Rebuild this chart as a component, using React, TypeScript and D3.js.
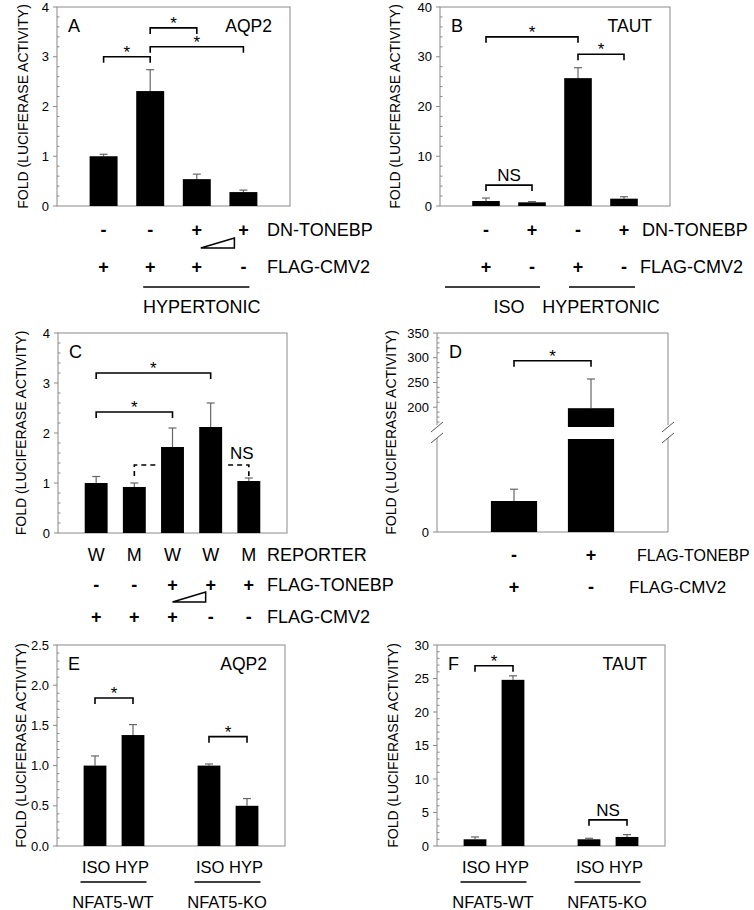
import * as d3 from "d3";

const FONT = "'Liberation Sans', Arial, Helvetica, sans-serif";
const FRAME = "#8a8a8a";
const ERR = "#666";

// A: AQP2 reporter, DN-TONEBP
const aValues = [1.0, 2.31, 0.54, 0.28];
const aErrors = [0.04, 0.43, 0.1, 0.04];
const aDnTonebp = ["-", "-", "+", "+"];
const aFlagCmv2 = ["+", "+", "+", "-"];
const aTicks = [0, 1, 2, 3, 4];

// B: TAUT reporter
const bValues = [1.0, 0.74, 25.7, 1.47];
const bErrors = [0.6, 0.15, 2.1, 0.4];
const bDnTonebp = ["-", "+", "-", "+"];
const bFlagCmv2 = ["+", "-", "+", "-"];
const bTicks = [0, 10, 20, 30, 40];

// C: reporter W / M
const cReporter = ["W", "M", "W", "W", "M"];
const cFlagTonebp = ["-", "-", "+", "+", "+"];
const cFlagCmv2 = ["+", "+", "+", "-", "-"];
const cValues = [1.0, 0.92, 1.72, 2.12, 1.04];
const cErrors = [0.13, 0.08, 0.38, 0.48, 0.06];
const cTicks = [0, 1, 2, 3, 4];

// D: broken axis
const dValues = [1, 198];
const dErrors = [0.38, 59];
const dFlagTonebp = ["-", "+"];
const dFlagCmv2 = ["+", "-"];
const dUpperTicks = [200, 250, 300, 350];

// E / F: NFAT5 WT vs KO
const efConditions = ["ISO HYP", "ISO HYP"];
const efGroups = ["NFAT5-WT", "NFAT5-KO"];
const efSlots = [1, 2, 4, 5];
const eValues = [1.0, 1.38, 1.0, 0.5];
const eErrors = [0.12, 0.13, 0.02, 0.09];
const eTicks = [0, 0.5, 1, 1.5, 2, 2.5];
const fValues = [1.0, 24.8, 1.0, 1.35];
const fErrors = [0.35, 0.6, 0.15, 0.35];
const fTicks = [0, 5, 10, 15, 20, 25, 30];

type Bracket = { from: number; to: number; at: number; label: string };

const aBrackets: Bracket[] = [
  { from: 0, to: 1, at: 3.0, label: "*" },
  { from: 1, to: 2, at: 3.58, label: "*" },
  { from: 1, to: 3, at: 3.2, label: "*" },
];
const bBrackets: Bracket[] = [
  { from: 0, to: 2, at: 34, label: "*" },
  { from: 2, to: 3, at: 30.5, label: "*" },
  { from: 0, to: 1, at: 4.2, label: "NS" },
];
const cBrackets: Bracket[] = [
  { from: 0, to: 3, at: 3.2, label: "*" },
  { from: 0, to: 2, at: 2.42, label: "*" },
];
const eBrackets: Bracket[] = [
  { from: 0, to: 1, at: 1.84, label: "*" },
  { from: 2, to: 3, at: 1.36, label: "*" },
];
const fBrackets: Bracket[] = [
  { from: 0, to: 1, at: 26.9, label: "*" },
  { from: 2, to: 3, at: 3.9, label: "NS" },
];

const TITLE = "FOLD (LUCIFERASE ACTIVITY)";
const LABEL = 18;

function BracketMark({ x1, x2, y, label, dashed }: any) {
  return (
    <g>
      <path d={`M${x1},${y + 6}V${y}H${x2}V${y + 6}`} fill="none" stroke="#000" strokeWidth={1.6} strokeDasharray={dashed ? "5,4" : undefined} />
      {label && (
        <text x={(x1 + x2) / 2} y={label === "*" ? y + 1 : y - 4} textAnchor="middle" fontSize={17}>
          {label}
        </text>
      )}
    </g>
  );
}

function SignRow({ xs, signs, y, label, labelX, labelSize }: any) {
  return (
    <g>
      {signs.map((s: string, i: number) => (
        <text key={i} x={xs[i]} y={y + 6} textAnchor="middle" fontSize={18} fontWeight="bold">
          {s}
        </text>
      ))}
      {label && (
        <text x={labelX} y={y + 6} fontSize={labelSize ?? LABEL}>
          {label}
        </text>
      )}
    </g>
  );
}

function Wedge({ xa, xb, y }: any) {
  return <path d={`M${xa},${y}H${xb}V${y - 10}Z`} fill="#fff" stroke="#000" strokeWidth={1.5} />;
}

function BarPanel({ x0, x1, top, bottom, y, ticks, minorStep, fmt, xs, barW, values, errors, brackets, letter, gene, titleX }: any) {
  const minor = d3.range(y.domain()[0], y.domain()[1] + 1e-9, minorStep).filter((v: number) => !ticks.some((t: number) => Math.abs(t - v) < 1e-9));
  return (
    <g>
      <rect x={x0} y={top} width={x1 - x0} height={bottom - top} fill="none" stroke={FRAME} strokeWidth={1} />
      {ticks.map((t: number) => (
        <g key={t}>
          <line x1={x0 - 4} x2={x0} y1={y(t)} y2={y(t)} stroke={FRAME} />
          <text x={x0 - 8} y={y(t) + 4.5} textAnchor="end" fontSize={13}>
            {fmt(t)}
          </text>
        </g>
      ))}
      {minor.map((t: number) => (
        <line key={"m" + t} x1={x0} x2={x0 + 2.5} y1={y(t)} y2={y(t)} stroke={FRAME} />
      ))}
      {values.map((v: number, i: number) => (
        <g key={i}>
          <line x1={xs[i]} x2={xs[i]} y1={y(v)} y2={y(v + errors[i])} stroke={ERR} strokeWidth={1.2} />
          <line x1={xs[i] - 4} x2={xs[i] + 4} y1={y(v + errors[i])} y2={y(v + errors[i])} stroke={ERR} strokeWidth={1.2} />
          <rect x={xs[i] - barW / 2} y={y(v)} width={barW} height={y(0) - y(v)} fill="#000" />
        </g>
      ))}
      {brackets.map((b: Bracket, i: number) => (
        <BracketMark key={i} x1={xs[b.from]} x2={xs[b.to]} y={y(b.at)} label={b.label} />
      ))}
      <text x={x0 + 11} y={top + 25} fontSize={18}>
        {letter}
      </text>
      {gene && (
        <text x={x1 - 18} y={top + 25} textAnchor="end" fontSize={17.5}>
          {gene}
        </text>
      )}
      <text transform={`translate(${titleX},${(top + bottom) / 2}) rotate(-90)`} textAnchor="middle" fontSize={14}>
        {TITLE}
      </text>
    </g>
  );
}

function PanelA() {
  const [x0, x1, top, bottom] = [57, 290, 7, 206];
  const x = d3.scalePoint<number>().domain(d3.range(aValues.length)).range([x0, x1]).padding(1);
  const xs = aValues.map((_, i) => x(i)!);
  const y = d3.scaleLinear().domain([0, 4]).range([bottom, top]);
  return (
    <g>
      <BarPanel x0={x0} x1={x1} top={top} bottom={bottom} y={y} ticks={aTicks} minorStep={0.2} fmt={d3.format("d")} xs={xs} barW={x.step() * 0.6} values={aValues} errors={aErrors} brackets={aBrackets} letter="A" gene="AQP2" titleX={28} />
      <SignRow xs={xs} signs={aDnTonebp} y={230} label="DN-TONEBP" labelX={267} />
      <Wedge xa={xs[2] + 4} xb={xs[3] - 9} y={248} />
      <SignRow xs={xs} signs={aFlagCmv2} y={267} label="FLAG-CMV2" labelX={267} />
      <line x1={xs[1] - 7} x2={xs[3] + 6} y1={287} y2={287} stroke="#000" strokeWidth={1.5} />
      <text x={(xs[1] + xs[3]) / 2 + 5} y={313} textAnchor="middle" fontSize={LABEL}>
        HYPERTONIC
      </text>
    </g>
  );
}

function PanelB() {
  const [x0, x1, top, bottom] = [440, 670, 7, 206];
  const x = d3.scalePoint<number>().domain(d3.range(bValues.length)).range([x0, x1]).padding(1);
  const xs = bValues.map((_, i) => x(i)!);
  const y = d3.scaleLinear().domain([0, 40]).range([bottom, top]);
  return (
    <g>
      <BarPanel x0={x0} x1={x1} top={top} bottom={bottom} y={y} ticks={bTicks} minorStep={2} fmt={d3.format("d")} xs={xs} barW={x.step() * 0.6} values={bValues} errors={bErrors} brackets={bBrackets} letter="B" gene="TAUT" titleX={400} />
      <SignRow xs={xs} signs={bDnTonebp} y={230} label="DN-TONEBP" labelX={642} />
      <SignRow xs={xs} signs={bFlagCmv2} y={267} label="FLAG-CMV2" labelX={640} />
      <line x1={xs[0] - 41} x2={xs[1] + 8} y1={287} y2={287} stroke="#000" strokeWidth={1.5} />
      <line x1={xs[2] - 9} x2={xs[3] + 11} y1={287} y2={287} stroke="#000" strokeWidth={1.5} />
      <text x={509} y={313} textAnchor="middle" fontSize={LABEL}>
        ISO
      </text>
      <text x={601} y={313} textAnchor="middle" fontSize={LABEL}>
        HYPERTONIC
      </text>
    </g>
  );
}

function PanelC() {
  const [x0, x1, top, bottom] = [58, 287, 333, 533];
  const x = d3.scalePoint<number>().domain(d3.range(cValues.length)).range([x0, x1]).padding(1);
  const xs = cValues.map((_, i) => x(i)!);
  const bw = x.step() * 0.6;
  const y = d3.scaleLinear().domain([0, 4]).range([bottom, top]);
  const yd = y(1.36);
  return (
    <g>
      <BarPanel x0={x0} x1={x1} top={top} bottom={bottom} y={y} ticks={cTicks} minorStep={0.2} fmt={d3.format("d")} xs={xs} barW={bw} values={cValues} errors={cErrors} brackets={cBrackets} letter="C" titleX={26} />
      <path d={`M${xs[1]},${yd + 11}V${yd}H${xs[2] - bw / 2 - 4}`} fill="none" stroke="#000" strokeWidth={1.6} strokeDasharray="5,4" />
      <path d={`M${xs[3] + bw / 2 + 6},${yd}H${xs[4]}V${yd + 11}`} fill="none" stroke="#000" strokeWidth={1.6} strokeDasharray="5,4" />
      <text x={xs[4] - 7} y={yd - 6} textAnchor="middle" fontSize={17}>
        NS
      </text>
      <g>
        {cReporter.map((r, i) => (
          <text key={i} x={xs[i]} y={561} textAnchor="middle" fontSize={LABEL}>
            {r}
          </text>
        ))}
        <text x={267} y={561} fontSize={LABEL}>
          REPORTER
        </text>
      </g>
      <SignRow xs={xs} signs={cFlagTonebp} y={585} label="FLAG-TONEBP" labelX={267} />
      <Wedge xa={xs[2]} xb={xs[3] - 5} y={602} />
      <SignRow xs={xs} signs={cFlagCmv2} y={617} label="FLAG-CMV2" labelX={267} />
    </g>
  );
}

function PanelD() {
  const [x0, x1, top, bottom] = [437, 668, 333, 532];
  const upperBottom = 427;
  const lowerTop = 439;
  const x = d3.scalePoint<number>().domain(d3.range(dValues.length)).range([x0, x1]).padding(1);
  const xs = dValues.map((_, i) => x(i)!);
  const bw = x.step() * 0.6;
  const yUp = d3.scaleLinear().domain([160, 350]).range([upperBottom, top]);
  const yLow = d3.scaleLinear().domain([0, 3]).range([bottom, lowerTop]);
  const minor = d3.range(170, 350, 10).filter((v) => !dUpperTicks.includes(v));
  const axisGapTop = 425;
  const axisGapBottom = 438;
  const slash = (cx: number, cy: number) => `M${cx - 6},${cy + 5}L${cx + 6},${cy - 5}`;
  const bracketY = yUp(294);
  return (
    <g>
      <line x1={x0} x2={x1} y1={top} y2={top} stroke={FRAME} />
      <line x1={x0} x2={x1} y1={bottom} y2={bottom} stroke={FRAME} />
      {[x0, x1].map((xx) => (
        <g key={xx}>
          <line x1={xx} x2={xx} y1={top} y2={axisGapTop} stroke={FRAME} />
          <line x1={xx} x2={xx} y1={axisGapBottom} y2={bottom} stroke={FRAME} />
          <path d={slash(xx, 427)} stroke="#555" strokeWidth={1} />
          <path d={slash(xx, 438)} stroke="#555" strokeWidth={1} />
        </g>
      ))}
      {dUpperTicks.map((t) => (
        <g key={t}>
          <line x1={x0 - 4} x2={x0} y1={yUp(t)} y2={yUp(t)} stroke={FRAME} />
          <text x={x0 - 8} y={yUp(t) + 4.5} textAnchor="end" fontSize={13}>
            {t}
          </text>
        </g>
      ))}
      {minor.map((t) => (
        <line key={t} x1={x0} x2={x0 + 2.5} y1={yUp(t)} y2={yUp(t)} stroke={FRAME} />
      ))}
      <line x1={x0 - 4} x2={x0} y1={yLow(0)} y2={yLow(0)} stroke={FRAME} />
      <text x={x0 - 8} y={yLow(0) + 4.5} textAnchor="end" fontSize={13}>
        0
      </text>
      {/* control bar, lower segment */}
      <line x1={xs[0]} x2={xs[0]} y1={yLow(dValues[0])} y2={yLow(dValues[0] + dErrors[0])} stroke={ERR} strokeWidth={1.2} />
      <line x1={xs[0] - 4} x2={xs[0] + 4} y1={yLow(dValues[0] + dErrors[0])} y2={yLow(dValues[0] + dErrors[0])} stroke={ERR} strokeWidth={1.2} />
      <rect x={xs[0] - bw / 2} y={yLow(dValues[0])} width={bw} height={yLow(0) - yLow(dValues[0])} fill="#000" />
      {/* TONEBP bar, broken */}
      <line x1={xs[1]} x2={xs[1]} y1={yUp(dValues[1])} y2={yUp(dValues[1] + dErrors[1])} stroke={ERR} strokeWidth={1.2} />
      <line x1={xs[1] - 4} x2={xs[1] + 4} y1={yUp(dValues[1] + dErrors[1])} y2={yUp(dValues[1] + dErrors[1])} stroke={ERR} strokeWidth={1.2} />
      <rect x={xs[1] - bw / 2} y={yUp(dValues[1])} width={bw} height={upperBottom - yUp(dValues[1])} fill="#000" />
      <rect x={xs[1] - bw / 2} y={lowerTop} width={bw} height={bottom - lowerTop} fill="#000" />
      <BracketMark x1={xs[0]} x2={xs[1]} y={bracketY} label="*" />
      <text x={x0 + 12} y={top + 25} fontSize={18}>
        D
      </text>
      <text transform={`translate(396,${(top + bottom) / 2}) rotate(-90)`} textAnchor="middle" fontSize={14}>
        {TITLE}
      </text>
      <SignRow xs={xs} signs={dFlagTonebp} y={555} label="FLAG-TONEBP" labelX={637} labelSize={16} />
      <SignRow xs={xs} signs={dFlagCmv2} y={587} label="FLAG-CMV2" labelX={629} labelSize={17} />
    </g>
  );
}

function PanelEF({ x0, x1, values, errors, ticks, domainMax, minorStep, fmt, brackets, letter, gene, titleX }: any) {
  const [top, bottom] = [645, 846];
  const x = d3.scaleLinear().domain([0, 6]).range([x0, x1]);
  const xs = efSlots.map((s) => x(s));
  const step = x(1) - x(0);
  const y = d3.scaleLinear().domain([0, domainMax]).range([bottom, top]);
  return (
    <g>
      <BarPanel x0={x0} x1={x1} top={top} bottom={bottom} y={y} ticks={ticks} minorStep={minorStep} fmt={fmt} xs={xs} barW={step * 0.6} values={values} errors={errors} brackets={brackets} letter={letter} gene={gene} titleX={titleX} />
      {efGroups.map((g, gi) => {
        const a = xs[gi * 2];
        const b = xs[gi * 2 + 1];
        return (
          <g key={g}>
            <text x={(a + b) / 2 + 1.5} y={873} textAnchor="middle" fontSize={16.5}>
              {efConditions[gi]}
            </text>
            <line x1={a - 14.5} x2={b + 13.5} y1={882} y2={882} stroke="#000" strokeWidth={1.5} />
            <text x={(a + b) / 2 - 1} y={908} textAnchor="middle" fontSize={16.5}>
              {g}
            </text>
          </g>
        );
      })}
    </g>
  );
}

export default function App() {
  return (
    <svg width={754} height={910} style={{ position: "absolute", left: 0, top: 0, background: "#fff" }} fontFamily={FONT}>
      <rect width={754} height={910} fill="#fff" />
      <PanelA />
      <PanelB />
      <PanelC />
      <PanelD />
      <PanelEF x0={57} x1={285} values={eValues} errors={eErrors} ticks={eTicks} domainMax={2.5} minorStep={0.1} fmt={d3.format(".1f")} brackets={eBrackets} letter="E" gene="AQP2" titleX={26} />
      <PanelEF x0={437} x1={665} values={fValues} errors={fErrors} ticks={fTicks} domainMax={30} minorStep={1} fmt={d3.format("d")} brackets={fBrackets} letter="F" gene="TAUT" titleX={398} />
    </svg>
  );
}
